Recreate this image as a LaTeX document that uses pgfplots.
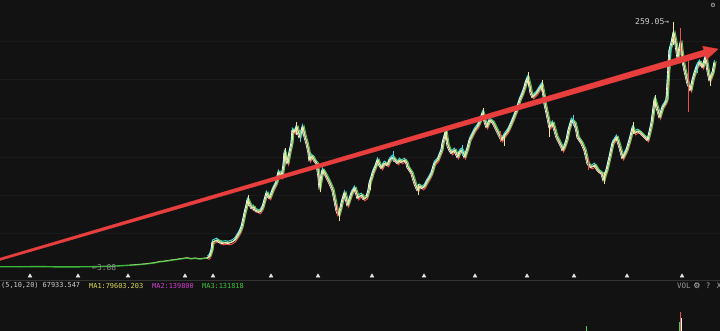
\documentclass[border=0pt]{standalone}
\usepackage{pgfplots}
\usepackage{pgfplotstable}
\pgfplotsset{compat=1.18}
\usepackage{fontspec}
\newfontfamily\mono{DejaVu Sans Mono}
\newfontfamily\dejavu{DejaVu Sans}
\definecolor{bg}{RGB}{18,18,18}
\definecolor{gridc}{RGB}{26,26,26}
\definecolor{sepc}{RGB}{52,52,52}
\definecolor{arrowred}{RGB}{232,62,62}
\definecolor{pyellow}{RGB}{238,230,160}
\definecolor{pcyan}{RGB}{70,215,225}
\definecolor{pred}{RGB}{232,80,80}
\definecolor{pgreen}{RGB}{80,205,90}
\definecolor{lowgreen}{RGB}{60,185,60}
\definecolor{txtgray}{RGB}{205,205,205}
\definecolor{ma1}{RGB}{220,220,80}
\definecolor{ma2}{RGB}{210,60,210}
\definecolor{ma3}{RGB}{60,195,60}

\pgfplotstableread{
x y
0 266.7
20 266.8
40 266.6
60 266.9
80 266.8
92 266.7
100 266.5
110 266.3
120 265.8
133 265
140 264.5
147 263.8
155 262.8
160 261.7
165 261.2
170 260.5
173 260
178 259.3
183 258.6
187 258
191 258.8
195 258.3
200 259
204 258.4
208 258
210 256
212 250
213 242
215 241
}\lowpart

\pgfplotstableread{
x y
130 265.0
136 264.6
140 264.1
144 263.9
147 263.4
151 263.0
155 262.4
160 261.2
163 261.3
165 260.8
170 260.0
173 259.5
176 259.6
178 258.8
183 258.1
187 257.5
191 258.3
195 257.8
200 258.5
204 257.9
208 257.5
}\lowyellow

\pgfplotstableread{
x y
208 258
210 256
212 250
213 242
215 241
217 240
220 242
223 243
226 242.5
229 243
232 242
235 240
237 237
240 232
242 227
244 218
245 213
247 205
248 200
250 204
252 208
254 207
255 210
258 211
260 212
262 209
263 207
265 200
267 193
269 197
270 198
272 193
273 190
275 186
277 182
278 176
279 172
281 176
282 177
284 165
285 153
287 160
288 163
290 152
292 143
293 130
295 132
297 127
299 134
300 137
302 131
303 127
305 136
307 143
309 152
310 160
312 156
313 157
315 161
317 163
319 176
320 187
322 175
323 170
325 173
327 177
330 183
333 190
335 200
337 210
339 215
341 208
342 203
344 196
345 193
347 201
348 205
350 199
352 193
355 188
357 194
358 198
360 196
362 195
364 199
367 197
369 190
370 183
372 177
373 173
376 166
378 160
380 165
382 168
384 164
385 163
388 165
390 160
393 157
396 161
398 163
400 160
402 162
405 160
407 163
408 167
410 170
412 173
415 183
417 188
418 190
420 186
423 188
425 186
427 182
430 177
432 173
434 166
435 163
438 160
440 155
442 150
443 143
445 136
446 132
448 145
450 150
452 153
455 150
458 157
460 152
462 150
464 154
465 157
468 148
470 140
473 134
475 130
478 126
480 122
483 113
485 121
487 127
490 120
493 122
495 126
497 130
500 136
502 140
505 135
508 131
510 127
513 120
515 115
517 110
520 100
523 93
525 87
526 83
528 78
530 86
531 92
533 97
535 95
537 93
540 88
542 85
544 95
545 103
548 117
550 127
553 123
555 130
557 137
560 143
562 147
563 150
565 146
567 140
569 130
572 120
575 123
577 131
578 137
580 140
582 143
585 150
588 163
590 166
592 167
595 165
598 170
600 172
602 173
604 180
605 176
607 170
610 157
613 143
617 137
620 147
623 158
625 154
627 150
630 140
633 128
635 133
638 131
640 132
643 135
645 137
648 140
650 132
652 123
655 100
658 110
660 117
663 107
665 104
667 100
668 83
670 50
672 43
674 33
676 43
678 57
681 43
683 60
685 70
688 83
691 90
693 80
695 73
697 67
700 62
703 67
706 57
708 70
710 80
713 73
715 62
}\price

\begin{document}
\begin{tikzpicture}
\path[use as bounding box] (0,0) rectangle (720pt,331pt);
\fill[bg] (0,0) rectangle (720pt,331pt);
\begin{axis}[
  at={(0,0)}, anchor=south west,
  width=720pt, height=331pt, scale only axis,
  xmin=0, xmax=720, ymin=0, ymax=331, y dir=reverse,
  axis line style={draw=none},
  xtick=\empty, ytick={41,79,118,157,195,233},
  yticklabels={}, major tick length=0pt,
  ymajorgrids, grid style={gridc, line width=0.8pt},
  clip=true,
]
% separator
\addplot[sepc, line width=0.8pt] coordinates {(0,280) (720,280)};
% low green part
\addplot[lowgreen, line width=1.4pt] table {\lowpart};
\addplot[pyellow, line width=0.5pt, opacity=0.7] table {\lowyellow};
% candle texture
\addplot[pcyan, line width=1.0pt, yshift=1.8pt, xshift=-0.6pt] table {\price};
\addplot[pred, line width=1.0pt, yshift=-1.8pt, xshift=0.6pt] table {\price};
\addplot[pgreen, line width=0.9pt, xshift=1.2pt, yshift=0.6pt] table {\price};
\addplot[white, line width=0.6pt, xshift=-1.2pt, yshift=-0.6pt] table {\price};
\addplot[pyellow, line width=1.0pt] table {\price};
% wicks
\addplot[pyellow, line width=0.7pt, unbounded coords=jump] coordinates {
 (673,22) (673,45) (nan,nan) (549,125) (549,137) (nan,nan) (504,135) (504,146)
 (nan,nan) (446,126) (446,140) (nan,nan) (296,122) (296,135) (nan,nan) (339,208) (339,221)
 (nan,nan) (604,172) (604,184) (nan,nan) (528,72) (528,86) (nan,nan) (285,148) (285,160)
 (nan,nan) (320,180) (320,192) (nan,nan) (370,178) (370,190) (nan,nan) (418,184) (418,195)
 (nan,nan) (483,108) (483,120) (nan,nan) (542,80) (542,92) (nan,nan) (655,95) (655,107)
 (nan,nan) (710,75) (710,86) (nan,nan) (633,122) (633,134) (nan,nan) (248,195) (248,206)};
\addplot[pcyan, line width=0.7pt, unbounded coords=jump] coordinates {
 (300,130) (300,142) (nan,nan) (393,151) (393,162) (nan,nan) (462,145) (462,156)
 (nan,nan) (573,115) (573,126) (nan,nan) (670,45) (670,58) (nan,nan) (697,62) (697,73)};
\addplot[pred, line width=0.8pt, unbounded coords=jump] coordinates {
 (680,28) (680,55) (nan,nan) (688,60) (688,112) (nan,nan) (337,205) (337,216)
 (nan,nan) (500,131) (500,142) (nan,nan) (588,158) (588,170)};
% red trend arrow
\addplot[fill=arrowred, draw=arrowred, line width=0.3pt] coordinates {
 (0,258.1) (703.8,50.0) (702.6,46.2) (718,49) (706.6,59.6) (705.4,55.8) (0,260.5)} -- cycle;
% triangles
\addplot[only marks, mark=triangle*, mark size=2.2pt, color=white!88!black] coordinates {
 (30,276) (78,276) (128,276) (185,276) (213,276) (271,276) (318,276) (372,276)
 (424,276) (475,276) (527,276) (574,276) (627,276) (682,276)};
% volume bars
\addplot[pgreen, line width=1pt] coordinates {(586,326) (586,331)};
\addplot[pred, line width=0.8pt] coordinates {(680.5,312) (680.5,331)};
\addplot[white, line width=0.6pt] coordinates {(681.5,318) (681.5,331)};
\addplot[pgreen, line width=0.6pt] coordinates {(679.5,322) (679.5,331)};
% texts
\node[anchor=west, inner sep=0pt, text=txtgray, font=\mono\fontsize{8.1}{9}\selectfont] at (635,21.5) {259.05→};
\node[anchor=west, inner sep=0pt, text=black!45!white, font=\mono\fontsize{8}{9}\selectfont] at (92,267.5) {←3.88};
\node[anchor=west, inner sep=0pt, text=txtgray, font=\mono\fontsize{6.9}{8}\selectfont] at (1,285.5) {(5,10,20) 67933.547};
\node[anchor=west, inner sep=0pt, text=ma1, font=\mono\fontsize{6.9}{8}\selectfont] at (89,285.5) {MA1:79603.203};
\node[anchor=west, inner sep=0pt, text=ma2, font=\mono\fontsize{6.9}{8}\selectfont] at (152,285.5) {MA2:139800};
\node[anchor=west, inner sep=0pt, text=ma3, font=\mono\fontsize{6.9}{8}\selectfont] at (202,285.5) {MA3:131818};
\node[anchor=west, inner sep=0pt, text=black!40!white, font=\mono\fontsize{7.5}{8}\selectfont] at (677,285.5) {VOL};
\node[inner sep=0pt, text=black!25!white, font=\dejavu\fontsize{8}{9}\selectfont] at (697,285.5) {⚙};
\node[inner sep=0pt, text=black!30!white, font=\mono\fontsize{7.5}{8}\selectfont] at (708,285.5) {?};
\node[inner sep=0pt, text=black!30!white, font=\mono\fontsize{7.5}{8}\selectfont] at (719,285.5) {X};
\node[inner sep=0pt, text=black!20!white, font=\dejavu\fontsize{6}{7}\selectfont] at (713,5) {⚙};
\end{axis}
\end{tikzpicture}
\end{document}
